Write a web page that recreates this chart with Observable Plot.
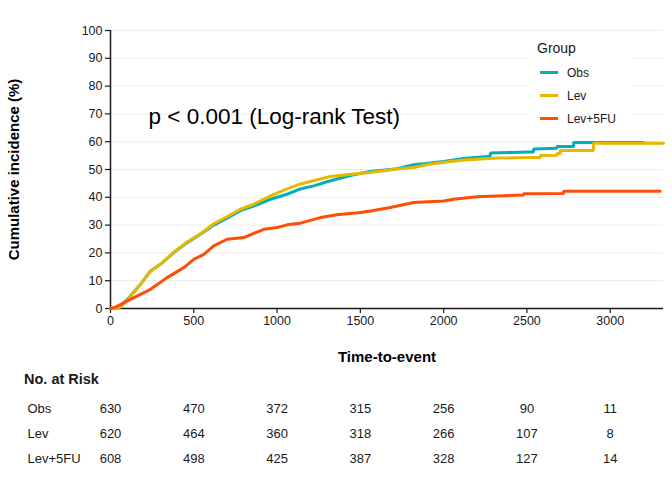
<!DOCTYPE html>
<html>
<head>
<meta charset="utf-8">
<script src="https://cdn.jsdelivr.net/npm/d3@7"></script>
<script src="https://cdn.jsdelivr.net/npm/@observablehq/plot@0.6"></script>
<style>
  body { margin: 0; background: white; font-family: "Liberation Sans", Arial, sans-serif; }
  #wrap { position: relative; width: 672px; height: 480px; overflow: hidden; background: white; }
  #legend { position: absolute; left: 529px; top: 33px; width: 104px; height: 102px; background: white; }
  #legend .title { position: absolute; left: 8px; top: 7px; font-size: 14px; color: #1a1a1a; }
  #legend .item { position: absolute; left: 11px; height: 16px; font-size: 12px; color: #1a1a1a; line-height: 16px; }
  #legend .sw { display: inline-block; width: 18px; height: 3px; vertical-align: middle; margin-right: 9px; position: relative; top: -1px; }
  #risktitle { position: absolute; left: 24px; top: 371px; font-size: 14.5px; font-weight: bold; color: #1a1a1a; }
</style>
</head>
<body>
<div id="wrap"></div>
<script>
// ---- data ----
const groups = ["Obs", "Lev", "Lev+5FU"];
const colors = ["#00AFBB", "#E7B800", "#FC4E07"];
const xTicks = [0, 500, 1000, 1500, 2000, 2500, 3000];
const yTicks = [0, 10, 20, 30, 40, 50, 60, 70, 80, 90, 100];
const xDomain = [0, 3320];

const obsTime  = [0, 50, 120, 180, 240, 300, 380, 460, 540, 620, 700, 780, 860, 960, 1060, 1140, 1220, 1300, 1360, 1460, 1560, 1720, 1820, 1920, 2000, 2120, 2280, 2280, 2400, 2520, 2540, 2540, 2680, 2680, 2780, 2780, 3200];
const obsValue = [0, 0.3, 4.5, 8.7, 13.5, 15.9, 20.1, 23.7, 26.7, 30.0, 32.5, 35.2, 36.8, 39.3, 41.1, 43.0, 44.1, 45.6, 46.6, 48.1, 49.3, 50.3, 51.7, 52.3, 52.9, 54.0, 54.8, 55.9, 56.1, 56.3, 56.3, 57.4, 57.6, 58.3, 58.3, 59.7, 59.7];

const levTime  = [0, 60, 120, 180, 240, 300, 380, 460, 540, 620, 700, 780, 860, 960, 1060, 1140, 1260, 1320, 1460, 1560, 1720, 1820, 1920, 2120, 2320, 2520, 2580, 2580, 2680, 2680, 2700, 2700, 2900, 2900, 3320];
const levValue = [0, 0.5, 4.3, 8.7, 13.3, 16.0, 20.3, 23.9, 26.9, 30.5, 33.0, 35.7, 37.5, 40.5, 43.0, 44.8, 46.6, 47.5, 48.4, 48.9, 50.2, 50.7, 52.0, 53.4, 54.1, 54.3, 54.3, 55.0, 55.1, 55.8, 55.8, 56.8, 56.8, 59.4, 59.4];

const lev5Time  = [0, 30, 120, 240, 340, 440, 500, 560, 620, 700, 800, 920, 1000, 1060, 1140, 1260, 1360, 1500, 1560, 1680, 1820, 2000, 2060, 2200, 2320, 2480, 2480, 2720, 2720, 3300];
const lev5Value = [0, 0.5, 3.3, 6.9, 11.1, 14.7, 17.7, 19.5, 22.5, 24.9, 25.5, 28.5, 29.1, 30.1, 30.7, 32.7, 33.7, 34.5, 35.1, 36.3, 38.1, 38.7, 39.3, 40.2, 40.5, 40.8, 41.3, 41.4, 42.2, 42.2];

const riskTimes = [0, 500, 1000, 1500, 2000, 2500, 3000];
const obsRisk  = [630, 470, 372, 315, 256, 90, 11];
const levRisk  = [620, 464, 360, 318, 266, 107, 8];
const lev5Risk = [608, 498, 425, 387, 328, 127, 14];

const pText = "p < 0.001 (Log-rank Test)";
const pAt = {time: 228, value: 69};

// ---- tables built from the arrays ----
const series = [[obsTime, obsValue], [levTime, levValue], [lev5Time, lev5Value]];
const curves = series.flatMap(([t, v], gi) => t.map((time, i) => ({group: groups[gi], time, value: v[i]})));
const risks = [obsRisk, levRisk, lev5Risk];
const riskRows = risks.flatMap((r, gi) => r.map((n, i) => ({group: groups[gi], time: riskTimes[i], n})));

const font = '"Liberation Sans", Arial, Helvetica, sans-serif';

const main = Plot.plot({
  width: 672, height: 370,
  marginLeft: 110, marginRight: 9, marginTop: 30, marginBottom: 62,
  style: {fontFamily: font, fontSize: "12px", color: "#1a1a1a", background: "white"},
  x: {domain: xDomain},
  y: {domain: [0, 100]},
  color: {domain: groups, range: colors},
  marks: [
    Plot.gridY(yTicks, {stroke: "#ebebeb", strokeOpacity: 1, strokeWidth: 1}),
    Plot.axisX(xTicks, {tickSize: 5, tickPadding: 3, label: null, tickFormat: d => String(d), fontSize: 12.5, stroke: "#1a1a1a", strokeWidth: 1.2}),
    Plot.axisY(yTicks, {tickSize: 5, tickPadding: 3, label: null, tickFormat: d => String(d), fontSize: 12.5, stroke: "#1a1a1a", strokeWidth: 1.2}),
    Plot.ruleX([0], {stroke: "#1a1a1a", strokeWidth: 1.5}),
    Plot.ruleY([0], {stroke: "#1a1a1a", strokeWidth: 1.5}),
    Plot.line(curves, {x: "time", y: "value", stroke: "group", strokeWidth: 3, curve: "linear", strokeLinejoin: "miter"}),
    Plot.text([pText], {x: () => pAt.time, y: () => pAt.value, text: d => d, textAnchor: "start", fontSize: 22.5, fill: "#000"}),
    Plot.text(["Cumulative incidence (%)"], {frameAnchor: "left", rotate: -90, dx: -96, textAnchor: "middle", text: d => d, fontWeight: "bold", fontSize: 15, fill: "#000"}),
    Plot.text(["Time-to-event"], {frameAnchor: "bottom", dy: 53, text: d => d, fontWeight: "bold", fontSize: 15, fill: "#000"})
  ]
});

const table = Plot.plot({
  width: 672, height: 110,
  marginLeft: 110, marginRight: 9, marginTop: 38, marginBottom: 22,
  style: {fontFamily: font, fontSize: "12px", color: "#1a1a1a", background: "white"},
  x: {domain: xDomain, axis: null},
  y: {type: "point", domain: groups, padding: 0, axis: null},
  marks: [
    Plot.text(riskRows, {x: "time", y: "group", text: "n", fontSize: 13, fill: "#1a1a1a"}),
    Plot.text(groups, {y: d => d, frameAnchor: "left", dx: -83, textAnchor: "start", text: d => d, fontSize: 13, fill: "#1a1a1a"})
  ]
});

const wrap = document.getElementById("wrap");
main.style.display = "block";
table.style.display = "block";
wrap.appendChild(main);
wrap.appendChild(table);

// legend
const leg = document.createElement("div");
leg.id = "legend";
leg.innerHTML = '<div class="title">Group</div>' + groups.map((g, i) =>
  `<div class="item" style="top:${32 + i * 23}px"><span class="sw" style="background:${colors[i]}"></span>${g}</div>`).join("");
wrap.appendChild(leg);

const rt = document.createElement("div");
rt.id = "risktitle";
rt.textContent = "No. at Risk";
wrap.appendChild(rt);
</script>
</body>
</html>
